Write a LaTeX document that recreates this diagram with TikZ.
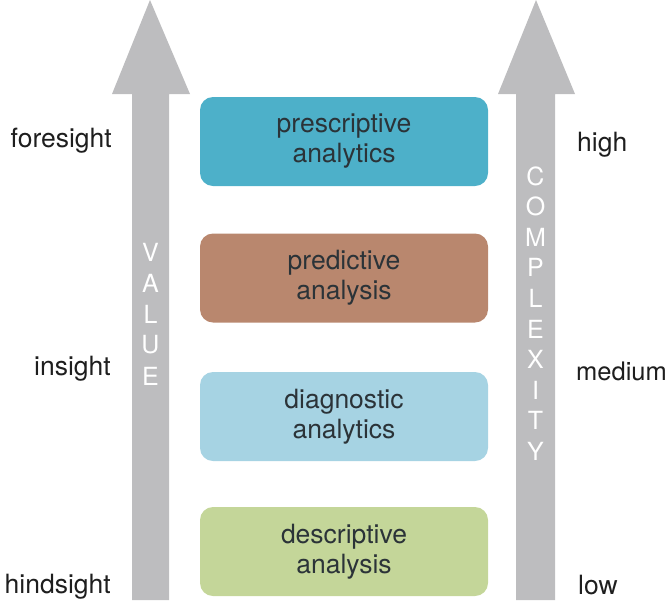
\documentclass[tikz,border=0pt]{standalone}
\usepackage{fontspec}
\setmainfont{TeX Gyre Heros}
\begin{document}
\begin{tikzpicture}[x=1pt,y=-1pt,
  arrowbody/.style={fill=arrowgray, draw=none},
  stage/.style={rounded corners=13pt, minimum width=288pt, minimum height=89pt,
    inner sep=0pt, align=center, font=\fontsize{26.5}{30}\selectfont, text=boxtext},
  sidelabel/.style={font=\fontsize{26.5}{30}\selectfont, text=labeltext, inner sep=0pt},
  arrowletter/.style={font=\fontsize{25}{30}\selectfont, text=white, inner sep=0pt, anchor=center}]
\definecolor{arrowgray}{HTML}{BDBDBF}
\definecolor{boxtext}{HTML}{2B3338}
\definecolor{labeltext}{HTML}{1E1E1E}
\definecolor{cpresc}{HTML}{4DB0C9}
\definecolor{cpred}{HTML}{B9876E}
\definecolor{cdiag}{HTML}{A6D3E3}
\definecolor{cdesc}{HTML}{C4D699}
\useasboundingbox (0,0) rectangle (668,600);
% value arrow
\fill[arrowbody] (132,600) -- (132,94) -- (112,94) -- (150,0) -- (190,94) -- (169,94) -- (169,600) -- cycle;
% complexity arrow
\fill[arrowbody] (516,600) -- (516,94) -- (498,94) -- (536,0) -- (575,94) -- (555,94) -- (555,600) -- cycle;
% stages
\node[stage, fill=cpresc] (presc) at (344,141.5) {prescriptive\\analytics};
\node[stage, fill=cpred] (pred) at (344,278) {predictive\\analysis};
\node[stage, fill=cdiag] (diag) at (344,416.5) {diagnostic\\analytics};
\node[stage, fill=cdesc] (desc) at (344,551.5) {descriptive\\analysis};
% left labels
\node[sidelabel, anchor=base east] (fore) at (112,147) {foresight};
\node[sidelabel, anchor=base east] (ins) at (111,375) {insight};
\node[sidelabel, anchor=base east] (hind) at (111,593) {hindsight};
% right labels
\node[sidelabel, anchor=base west] (high) at (577,151) {high};
\node[sidelabel, anchor=base west, font=\fontsize{25.5}{30}\selectfont] (med) at (576,380) {medium};
\node[sidelabel, anchor=base west] (low) at (578,594) {low};
% arrow letters
\foreach \l [count=\i from 0] in {V,A,L,U,E}
  \node[arrowletter] (val\i) at (150.5,{252+\i*31}) {\l};
\foreach \l [count=\i from 0] in {C,O,M,P,L,E,X,I,T,Y}
  \node[arrowletter] (cx\i) at (535.5,{176+\i*30.6}) {\l};
\end{tikzpicture}
\end{document}
